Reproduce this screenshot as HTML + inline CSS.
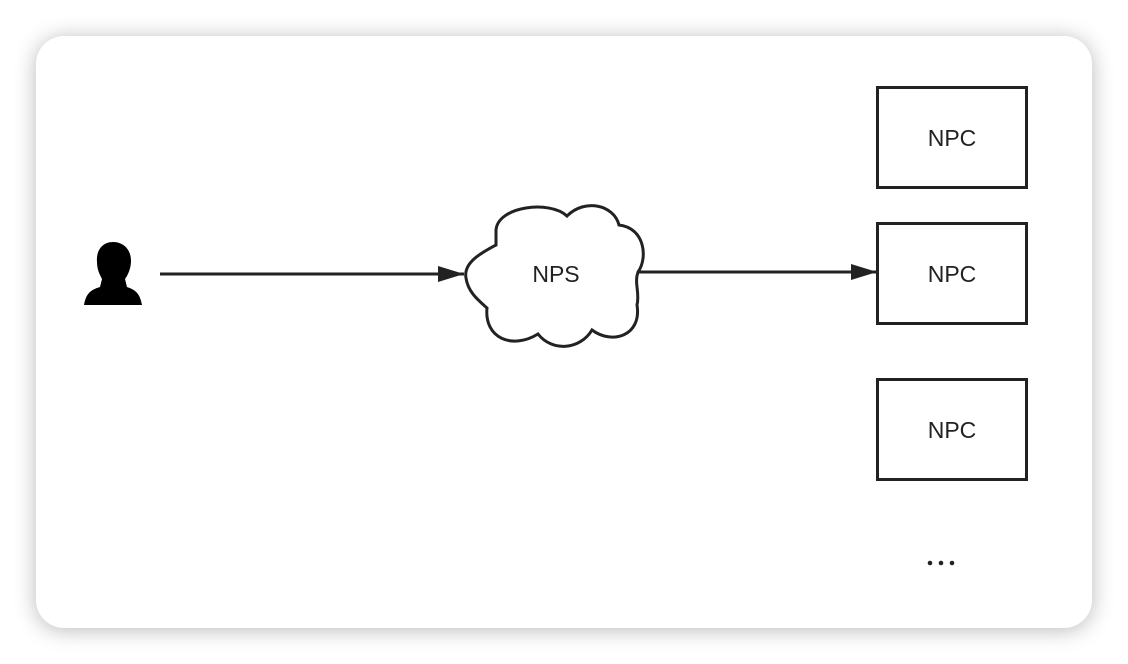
<!DOCTYPE html>
<html><head><meta charset="utf-8"><style>
html,body{margin:0;padding:0;background:#fff;}
body{width:1128px;height:664px;position:relative;overflow:hidden;font-family:"Liberation Sans",sans-serif;}
.card{position:absolute;left:36px;top:36px;width:1056px;height:592px;border-radius:28px;background:#fff;box-shadow:0 2px 22px rgba(0,0,0,0.28);}
svg{position:absolute;left:0;top:0;}
</style></head><body>
<div class="card"></div>
<svg width="1128" height="664" viewBox="0 0 1128 664">
<defs>
<marker id="b" viewBox="0 0 26 16" markerWidth="26" markerHeight="16" refX="26" refY="8" orient="auto" markerUnits="userSpaceOnUse"><path d="M0,0 L26,8 L0,16 z" fill="#222"/></marker></defs>
<path d="M113,242 C102,242 96,251 97,262 C97,270 100,275 102,279 L100,287 C90,290 86,294 84,305 L142,305 C140,294 136,290 127,287 L125,279 C128,275 131,268 131,261 C131,250 124,242 113,242 Z" fill="#000"/>
<line x1="160" y1="274" x2="464" y2="274" stroke="#222" stroke-width="3" marker-end="url(#b)"/>
<path d="M496,245 C483,252 463,262 466,278 C468,292 478,300 487,308 C484,338 512,350 538,334 C552,352 580,350 592,330 C612,345 642,336 637,305 C640,293 634,283 638,272 C648,258 645,228 619,225 C614,205 585,198 567,216 C550,200 498,206 496,230 Z" fill="#fff" stroke="#222" stroke-width="3"/>
<text x="556" y="282" font-size="23" text-anchor="middle" fill="#222">NPS</text>
<line x1="637" y1="272" x2="877" y2="272" stroke="#222" stroke-width="3" marker-end="url(#b)"/>
<g fill="#fff" stroke="#222" stroke-width="3">
<rect x="877.5" y="87.5" width="149" height="100"/>
<rect x="877.5" y="223.5" width="149" height="100"/>
<rect x="877.5" y="379.5" width="149" height="100"/>
</g>
<g font-size="23" text-anchor="middle" fill="#222">
<text x="952" y="146">NPC</text>
<text x="952" y="282">NPC</text>
<text x="952" y="438">NPC</text>
</g>
<g fill="#222"><circle cx="930" cy="563" r="2.3"/><circle cx="941" cy="563" r="2.3"/><circle cx="952" cy="563" r="2.3"/></g>
</svg>
</body></html>
